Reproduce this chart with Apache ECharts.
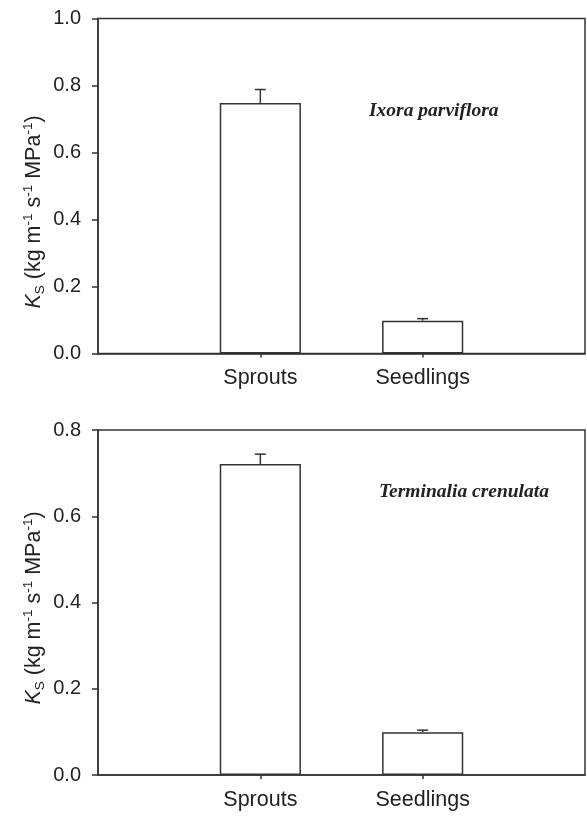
<!DOCTYPE html>
<html>
<head>
<meta charset="utf-8">
<script src="https://cdn.jsdelivr.net/npm/echarts@6/dist/echarts.min.js"></script>
<style>
  html, body { margin: 0; padding: 0; background: #fff; }
  #chart { width: 587px; height: 816px; }
</style>
</head>
<body>
<div id="chart"></div>
<script>
// data
var categories = ['Sprouts', 'Seedlings'];
var ixoraKs = [0.748, 0.098];
var ixoraErr = [0.040, 0.006];
var termKs = [0.721, 0.099];
var termErr = [0.023, 0.005];
var topTicks = { min: 0, max: 1.0, step: 0.2 };
var bottomTicks = { min: 0, max: 0.8, step: 0.2 };

var FONT = '"Liberation Sans", Arial, sans-serif';
var INK = '#333';

var axisCats = [''].concat(categories, ['']);
var showCat = function (i) { return i === 1 || i === 2; };

function xAxis(gi) {
    return {
        type: 'category', gridIndex: gi, data: axisCats, boundaryGap: false,
        axisLine: { lineStyle: { color: INK, width: 1.5 } },
        axisTick: { interval: showCat, length: 4, lineStyle: { color: INK, width: 1.5 } },
        axisLabel: { interval: showCat, color: '#222', fontSize: 21.5, fontFamily: FONT, margin: 14 },
        splitLine: { show: false }
    };
}
function yAxis(gi, t) {
    return {
        type: 'value', gridIndex: gi, min: t.min, max: t.max, interval: t.step,
        axisLine: { show: true, lineStyle: { color: INK, width: 1.5 } },
        axisTick: { show: true, length: 6, lineStyle: { color: INK, width: 1.5 } },
        axisLabel: { color: '#222', fontSize: 20, fontFamily: FONT, margin: 17,
            formatter: function (v) { return v.toFixed(1); } },
        splitLine: { show: false }
    };
}
function bars(gi, vals) {
    return {
        type: 'bar', xAxisIndex: gi, yAxisIndex: gi, barWidth: '50%',
        data: categories.map(function (c, i) { return [c, vals[i]]; }),
        itemStyle: { color: '#fff', borderColor: INK, borderWidth: 1.5 },
        silent: true
    };
}
function errBars(gi, vals, errs) {
    return {
        type: 'custom', xAxisIndex: gi, yAxisIndex: gi, z: 5, silent: true,
        data: categories.map(function (c, i) { return [i + 1, vals[i], errs[i]]; }),
        renderItem: function (params, api) {
            var lo = api.coord([api.value(0), api.value(1)]);
            var hi = api.coord([api.value(0), api.value(1) + api.value(2)]);
            var st = { stroke: INK, lineWidth: 1.5 };
            return {
                type: 'group',
                children: [
                    { type: 'line', shape: { x1: lo[0], y1: lo[1], x2: hi[0], y2: hi[1] }, style: st },
                    { type: 'line', shape: { x1: hi[0] - 5.5, y1: hi[1], x2: hi[0] + 5.5, y2: hi[1] }, style: st }
                ]
            };
        }
    };
}
function yTitle(x, y) {
    return {
        type: 'text', x: x, y: y, rotation: Math.PI / 2, silent: true,
        style: {
            text: '{k|K}{s|S}{t| (kg m}{u|-1}{t| s}{u|-1}{t| MPa}{u|-1}{t|)}',
            align: 'center', verticalAlign: 'middle',
            textAlign: 'center', textVerticalAlign: 'middle',
            fill: '#222',
            rich: {
                k: { fontSize: 21.5, fontStyle: 'italic', fontFamily: FONT, lineHeight: 26, verticalAlign: 'middle', fill: '#222' },
                s: { fontSize: 13.5, fontFamily: FONT, lineHeight: 13, verticalAlign: 'bottom', fill: '#222' },
                t: { fontSize: 21.5, fontFamily: FONT, lineHeight: 26, verticalAlign: 'middle', fill: '#222' },
                u: { fontSize: 13.5, fontFamily: FONT, lineHeight: 13, verticalAlign: 'top', fill: '#222' }
            }
        }
    };
}
function species(x, y, name) {
    return {
        type: 'text', x: x, y: y, silent: true,
        style: {
            text: name, fill: '#222',
            font: 'italic bold 19.5px "Liberation Serif", "Times New Roman", serif',
            verticalAlign: 'middle', textVerticalAlign: 'middle'
        }
    };
}

var chart = echarts.init(document.getElementById('chart'));
chart.setOption({
    backgroundColor: '#fff',
    animation: false,
    grid: [
        { left: 98, right: 2, top: 18.5, height: 335, show: true, borderColor: INK, borderWidth: 1.5, backgroundColor: 'transparent' },
        { left: 98, right: 2, top: 430, height: 345, show: true, borderColor: INK, borderWidth: 1.5, backgroundColor: 'transparent' }
    ],
    xAxis: [xAxis(0), xAxis(1)],
    yAxis: [yAxis(0, topTicks), yAxis(1, bottomTicks)],
    series: [
        bars(0, ixoraKs), errBars(0, ixoraKs, ixoraErr),
        bars(1, termKs), errBars(1, termKs, termErr)
    ],
    graphic: [
        yTitle(34, 212),
        yTitle(34, 608),
        species(369, 111, 'Ixora parviflora'),
        species(379, 492, 'Terminalia crenulata')
    ]
});
</script>
</body>
</html>
